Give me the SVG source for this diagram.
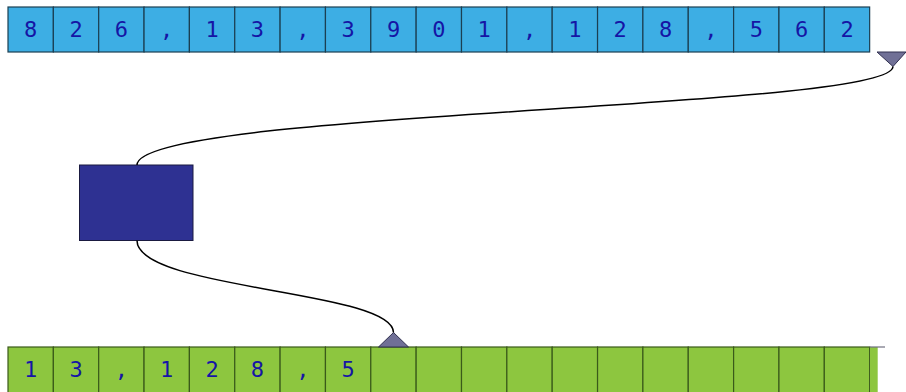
<svg xmlns="http://www.w3.org/2000/svg" width="906" height="392" viewBox="0 0 906 392">
<style>
.tc{fill:#3daee4;stroke:#1b3f52;stroke-width:1.2}
.bc{fill:#8dc63f;stroke:#3a5a1a;stroke-width:1.2}
.t{font-family:"DejaVu Sans Mono",monospace;font-size:22px;fill:#1515a5;text-anchor:middle}
.conn{fill:none;stroke:#000;stroke-width:1.5}
.tri{fill:#707096;stroke:#303050;stroke-width:1}
</style>
<defs>
<g id="tcell"><rect class="tc" x="0" y="0" width="45.35" height="45"/></g>
<g id="bcell"><rect class="bc" x="0" y="0" width="45.35" height="50"/></g>
</defs>
<g id="input">
<use href="#tcell" x="8" y="7"/><use href="#tcell" x="53.35" y="7"/><use href="#tcell" x="98.7" y="7"/><use href="#tcell" x="144.05" y="7"/><use href="#tcell" x="189.4" y="7"/><use href="#tcell" x="234.75" y="7"/><use href="#tcell" x="280.1" y="7"/><use href="#tcell" x="325.45" y="7"/><use href="#tcell" x="370.8" y="7"/><use href="#tcell" x="416.15" y="7"/><use href="#tcell" x="461.5" y="7"/><use href="#tcell" x="506.85" y="7"/><use href="#tcell" x="552.2" y="7"/><use href="#tcell" x="597.55" y="7"/><use href="#tcell" x="642.9" y="7"/><use href="#tcell" x="688.25" y="7"/><use href="#tcell" x="733.6" y="7"/><use href="#tcell" x="778.95" y="7"/><use href="#tcell" x="824.3" y="7"/>
<text class="t" y="37"><tspan x="30.7">8</tspan><tspan x="76">2</tspan><tspan x="121.4">6</tspan><tspan x="166.7">,</tspan><tspan x="212.1">1</tspan><tspan x="257.4">3</tspan><tspan x="302.8">,</tspan><tspan x="348.1">3</tspan><tspan x="393.5">9</tspan><tspan x="438.8">0</tspan><tspan x="484.2">1</tspan><tspan x="529.5">,</tspan><tspan x="574.9">1</tspan><tspan x="620.2">2</tspan><tspan x="665.6">8</tspan><tspan x="710.9">,</tspan><tspan x="756.3">5</tspan><tspan x="801.6">6</tspan><tspan x="847">2</tspan></text>
<polygon class="tri" points="877,52 906,52 893,66.5"/>
</g>
<g id="process">
<rect x="79.5" y="165" width="113.5" height="75.5" fill="#2e3192" stroke="#1a1a40" stroke-width="1"/>
</g>
<g id="output">
<use href="#bcell" x="8" y="347"/><use href="#bcell" x="53.35" y="347"/><use href="#bcell" x="98.7" y="347"/><use href="#bcell" x="144.05" y="347"/><use href="#bcell" x="189.4" y="347"/><use href="#bcell" x="234.75" y="347"/><use href="#bcell" x="280.1" y="347"/><use href="#bcell" x="325.45" y="347"/><use href="#bcell" x="370.8" y="347"/><use href="#bcell" x="416.15" y="347"/><use href="#bcell" x="461.5" y="347"/><use href="#bcell" x="506.85" y="347"/><use href="#bcell" x="552.2" y="347"/><use href="#bcell" x="597.55" y="347"/><use href="#bcell" x="642.9" y="347"/><use href="#bcell" x="688.25" y="347"/><use href="#bcell" x="733.6" y="347"/><use href="#bcell" x="778.95" y="347"/><use href="#bcell" x="824.3" y="347"/>
<rect x="870" y="347" width="7.7" height="50" fill="#8dc63f"/>
<line x1="869.6" y1="347" x2="885" y2="347" stroke="#707080" stroke-width="1.2"/>
<text class="t" y="377"><tspan x="30.7">1</tspan><tspan x="76">3</tspan><tspan x="121.4">,</tspan><tspan x="166.7">1</tspan><tspan x="212.1">2</tspan><tspan x="257.4">8</tspan><tspan x="302.8">,</tspan><tspan x="348.1">5</tspan></text>
<polygon class="tri" points="378.5,347 408.5,347 393.5,332.5"/>
</g>
<g id="connectors">
<path class="conn" d="M893,66.5 C893,110 137,110 137,165"/>
<path class="conn" d="M137,240.5 C137,290 393.5,290 393.5,332.5"/>
</g>
</svg>
